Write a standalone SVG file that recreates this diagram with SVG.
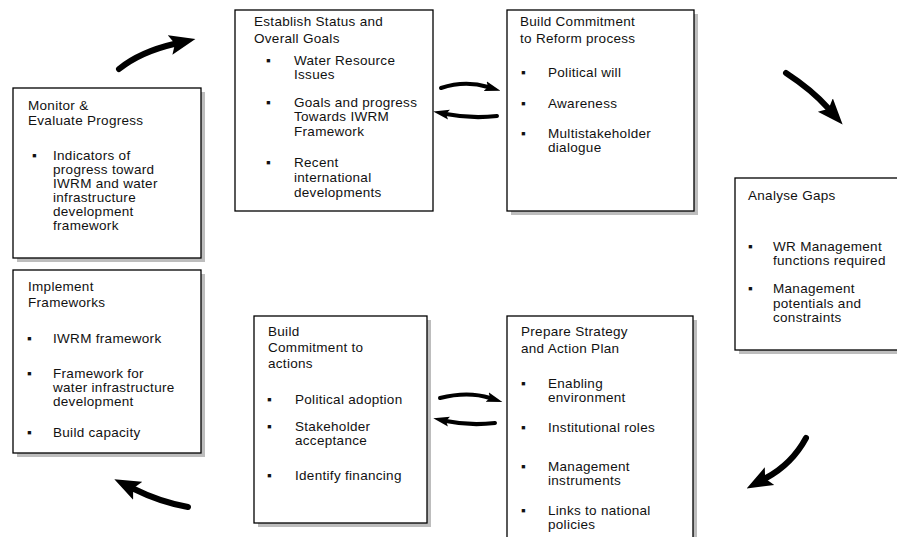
<svg xmlns="http://www.w3.org/2000/svg" width="897" height="537" viewBox="0 0 897 537">
<defs>
<marker id="bigHead" markerUnits="userSpaceOnUse" markerWidth="26" markerHeight="22" refX="4" refY="11" orient="auto">
<path d="M0,1 L26,11 L0,21 L5,11 z" fill="#000"/>
</marker>
<marker id="smallHead" markerUnits="userSpaceOnUse" markerWidth="16" markerHeight="12" refX="3" refY="6" orient="auto">
<path d="M0,1 L16,6 L0,11 L3,6 z" fill="#000"/>
</marker>
</defs>
<style>
.box{fill:#fff;stroke:#000;stroke-width:1.3}
.shadow{fill:#bdbdbd}
text{font-family:"Liberation Sans",Arial,sans-serif;font-size:13.5px;letter-spacing:0.3px;fill:#111}
.big{fill:none;stroke:#000;stroke-width:6;stroke-linecap:round;marker-end:url(#bigHead)}
.small{fill:none;stroke:#000;stroke-width:4;stroke-linecap:round;marker-end:url(#smallHead)}
</style>
<rect width="897" height="537" fill="#fff"/>

<g id="establish">
<rect class="box" x="235" y="10" width="198" height="201"/>
<text x="254" y="26">Establish Status and</text>
<text x="254" y="43">Overall Goals</text>
<text x="266" y="65">▪</text>
<text x="294" y="65">Water Resource</text>
<text x="294" y="79">Issues</text>
<text x="266" y="107">▪</text>
<text x="294" y="107">Goals and progress</text>
<text x="294" y="121">Towards IWRM</text>
<text x="294" y="136">Framework</text>
<text x="266" y="167">▪</text>
<text x="294" y="167">Recent</text>
<text x="294" y="182">international</text>
<text x="294" y="197">developments</text>
</g>

<g id="reform">
<rect class="shadow" x="511" y="14" width="187" height="201"/>
<rect class="box" x="507" y="10" width="187" height="201"/>
<text x="520" y="26">Build Commitment</text>
<text x="520" y="43">to Reform process</text>
<text x="521" y="77">▪</text>
<text x="548" y="77">Political will</text>
<text x="521" y="108">▪</text>
<text x="548" y="108">Awareness</text>
<text x="521" y="138">▪</text>
<text x="548" y="138">Multistakeholder</text>
<text x="548" y="152">dialogue</text>
</g>

<g id="monitor">
<rect class="shadow" x="17" y="92" width="188" height="170"/>
<rect class="box" x="13" y="88" width="188" height="170"/>
<text x="28" y="110">Monitor &amp;</text>
<text x="28" y="125">Evaluate Progress</text>
<text x="32" y="160">▪</text>
<text x="53" y="160">Indicators of</text>
<text x="53" y="174">progress toward</text>
<text x="53" y="188">IWRM and water</text>
<text x="53" y="202">infrastructure</text>
<text x="53" y="216">development</text>
<text x="53" y="230">framework</text>
</g>

<g id="implement">
<rect class="shadow" x="17" y="274" width="188" height="183"/>
<rect class="box" x="13" y="270" width="188" height="183"/>
<text x="28" y="291">Implement</text>
<text x="28" y="307">Frameworks</text>
<text x="27" y="343">▪</text>
<text x="53" y="343">IWRM framework</text>
<text x="27" y="378">▪</text>
<text x="53" y="378">Framework for</text>
<text x="53" y="392">water infrastructure</text>
<text x="53" y="406">development</text>
<text x="27" y="437">▪</text>
<text x="53" y="437">Build capacity</text>
</g>

<g id="analyse">
<rect class="shadow" x="739" y="182" width="162" height="172"/>
<rect class="box" x="735" y="178" width="164" height="172"/>
<text x="748" y="200">Analyse Gaps</text>
<text x="748" y="251">▪</text>
<text x="773" y="251">WR Management</text>
<text x="773" y="265">functions required</text>
<text x="748" y="293">▪</text>
<text x="773" y="293">Management</text>
<text x="773" y="308">potentials and</text>
<text x="773" y="322">constraints</text>
</g>

<g id="actions">
<rect class="shadow" x="258" y="320" width="173" height="207"/>
<rect class="box" x="254" y="316" width="173" height="207"/>
<text x="268" y="336">Build</text>
<text x="268" y="352">Commitment to</text>
<text x="268" y="368">actions</text>
<text x="267" y="404">▪</text>
<text x="295" y="404">Political adoption</text>
<text x="267" y="431">▪</text>
<text x="295" y="431">Stakeholder</text>
<text x="295" y="445">acceptance</text>
<text x="267" y="480">▪</text>
<text x="295" y="480">Identify financing</text>
</g>

<g id="strategy">
<rect class="shadow" x="511" y="320" width="186" height="230"/>
<rect class="box" x="507" y="316" width="186" height="230"/>
<text x="521" y="336">Prepare Strategy</text>
<text x="521" y="353">and Action Plan</text>
<text x="521" y="388">▪</text>
<text x="548" y="388">Enabling</text>
<text x="548" y="402">environment</text>
<text x="521" y="432">▪</text>
<text x="548" y="432">Institutional roles</text>
<text x="521" y="471">▪</text>
<text x="548" y="471">Management</text>
<text x="548" y="485">instruments</text>
<text x="521" y="515">▪</text>
<text x="548" y="515">Links to national</text>
<text x="548" y="529">policies</text>
</g>

<g id="connectors">
<path class="big" d="M119,69 Q140,52 174,44"/>
<path class="small" d="M441,88 Q465,80 488,87"/>
<path class="small" d="M497,116 Q472,119 446,114"/>
<path class="big" d="M786,73 Q812,90 828,108"/>
<path class="big" d="M806,438 Q792,464 766,478"/>
<path class="small" d="M440,398 Q468,391 490,398"/>
<path class="small" d="M495,423 Q470,426 446,421"/>
<path class="big" d="M188,507 Q160,502 134,489"/>
</g>
</svg>
